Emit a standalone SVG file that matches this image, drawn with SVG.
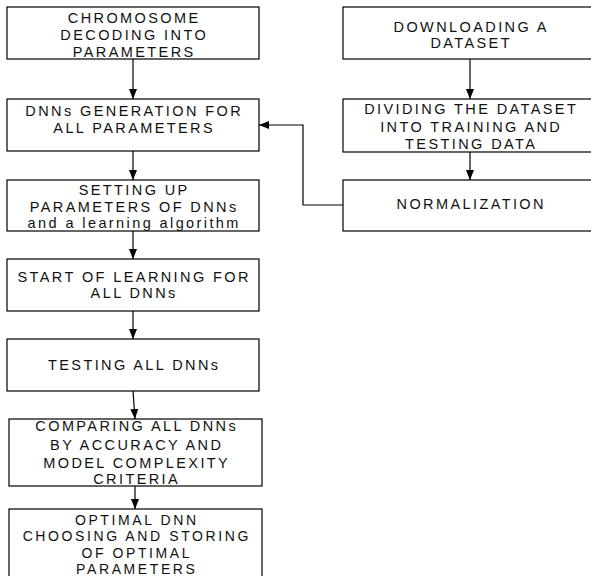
<svg xmlns="http://www.w3.org/2000/svg" width="591" height="576" viewBox="0 0 591 576">
<defs>
<marker id="ah" markerWidth="10" markerHeight="8" refX="10" refY="4" orient="auto" markerUnits="userSpaceOnUse">
<path d="M0,0 L10,4 L0,8 Z" fill="#000"/>
</marker>
<style>
rect{fill:#fff;stroke:#000;stroke-width:1.2}
text{font-family:"Liberation Sans",Arial,sans-serif;font-size:14.5px;fill:#111;text-anchor:middle;letter-spacing:2.4px}
.s{font-size:14px;letter-spacing:2.6px}
.c path{fill:none;stroke:#000;stroke-width:1.2;marker-end:url(#ah)}
</style>
</defs>
<rect x="0" y="0" width="591" height="576" style="fill:#fff;stroke:none"/>
<g id="n1"><rect x="7" y="7" width="252" height="52"/>
<text x="134.2" y="22.7">CHROMOSOME</text><text x="134.2" y="40.3">DECODING INTO</text><text x="134.2" y="57.3">PARAMETERS</text></g>
<g id="n2"><rect x="7" y="99" width="252" height="52"/>
<text x="134.2" y="116">DNNs GENERATION FOR</text><text x="134.2" y="133.3">ALL PARAMETERS</text></g>
<g id="n3"><rect x="7" y="180" width="252" height="51"/>
<text x="134.2" y="195">SETTING UP</text><text x="134.2" y="211.7">PARAMETERS OF DNNs</text><text x="134.2" y="228">and a learning algorithm</text></g>
<g id="n4"><rect x="7" y="259" width="252" height="52"/>
<text x="134.2" y="281.7">START OF LEARNING FOR</text><text x="134.2" y="298.3">ALL DNNs</text></g>
<g id="n5"><rect x="7" y="339" width="252" height="52"/>
<text x="134.2" y="370">TESTING ALL DNNs</text></g>
<g id="n6"><rect x="9" y="419" width="253" height="67"/>
<text x="136.7" y="431">COMPARING ALL DNNs</text><text x="136.7" y="450">BY ACCURACY AND</text><text x="136.7" y="467.7">MODEL COMPLEXITY</text><text x="136.7" y="484">CRITERIA</text></g>
<g id="n7"><rect x="9" y="509" width="253" height="70"/>
<text class="s" x="136.8" y="524.5">OPTIMAL DNN</text><text class="s" x="136.8" y="541">CHOOSING AND STORING</text><text class="s" x="136.8" y="557.5">OF OPTIMAL</text><text class="s" x="136.8" y="574">PARAMETERS</text></g>
<g id="nA"><rect x="343" y="7" width="254" height="52"/>
<text x="471.2" y="31.7">DOWNLOADING A</text><text x="471.2" y="47.7">DATASET</text></g>
<g id="nB"><rect x="343" y="99" width="254" height="53"/>
<text x="471.2" y="114.3">DIVIDING THE DATASET</text><text x="471.2" y="131.7">INTO TRAINING AND</text><text x="471.2" y="149">TESTING DATA</text></g>
<g id="nC"><rect x="343" y="180" width="254" height="51"/>
<text x="471.2" y="209.3">NORMALIZATION</text></g>
<g id="connectors" class="c">
<path d="M133,59 V99"/>
<path d="M133,151 V180"/>
<path d="M133,231 V259"/>
<path d="M133,311 V339"/>
<path d="M133,391 L135,419"/>
<path d="M135,486 V509"/>
<path d="M470,59 V99"/>
<path d="M470,152 V180"/>
<path d="M343,205 H303 V125 H259"/>
</g>
</svg>
